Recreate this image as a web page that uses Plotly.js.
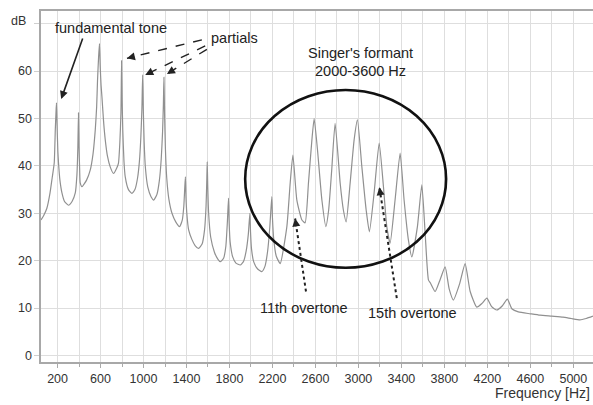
<!DOCTYPE html>
<html>
<head>
<meta charset="utf-8">
<script src="https://cdn.plot.ly/plotly-3.0.1.min.js"></script>
<style>
  html, body { margin: 0; padding: 0; background: #fff; }
  #chart { width: 593px; height: 405px; }
</style>
</head>
<body>
<div id="chart"></div>
<script>
// Sung-vowel spectrum: frequency (Hz) and level (dB) along the envelope
const freqHz = [
  46, 70, 100, 130, 150, 169, 179, 185, 190, 195, 203, 209, 222, 241, 265, 302,
  335, 365, 380, 389, 395, 400, 406, 411, 427,
  470, 504, 530, 551, 564, 572, 582, 590, 597, 605, 613, 628, 644, 665, 690, 721,
  750, 767, 780, 790, 796, 801, 807, 818, 830, 860, 892,
  920, 945, 962, 975, 985, 992, 998, 1006, 1018, 1040, 1070, 1095,
  1125, 1148, 1165, 1177, 1185, 1190, 1196, 1204, 1216, 1236, 1265, 1300, 1335,
  1360, 1375, 1384, 1390, 1395, 1403, 1420, 1450, 1480, 1512,
  1545, 1568, 1582, 1589, 1593, 1598, 1606, 1625, 1660, 1690, 1714,
  1745, 1766, 1780, 1791, 1797, 1806, 1830, 1860, 1900,
  1930, 1955, 1975, 1990, 1996, 2005, 2025, 2060, 2101,
  2130, 2155, 2175, 2194, 2200, 2212, 2235, 2272,
  2334, 2365, 2390, 2427, 2474, 2504,
  2535, 2567, 2588, 2619, 2660, 2697,
  2723, 2751, 2783, 2830, 2860, 2886,
  2923, 2960, 2991, 3032, 3072, 3102,
  3146, 3193, 3233, 3264, 3295,
  3341, 3388, 3425, 3465, 3497,
  3549, 3590, 3621, 3652, 3670, 3714,
  3760, 3807, 3845, 3884, 3940, 3993, 4040, 4101,
  4150, 4195, 4240, 4288, 4340, 4386, 4430, 4488,
  4600, 4690, 4800, 4904, 4980, 5062, 5120, 5183
];
const levelDb = [
  28.6, 29.5, 31.0, 34.3, 37.5, 40.6, 47.6, 51.0, 53.3, 49.0, 43.0, 40.6, 37.0, 34.3, 32.5, 31.7,
  32.5, 34.3, 38.0, 44.0, 51.2, 44.0, 39.0, 36.4, 35.6,
  37.0, 39.1, 42.5, 47.6, 52.5, 58.0, 63.0, 65.8, 61.0, 57.0, 54.6, 49.5, 45.5, 42.0, 39.8, 38.4,
  39.5, 40.6, 45.0, 51.2, 62.2, 54.0, 47.6, 41.0, 37.7, 35.0, 34.2,
  35.0, 37.5, 41.0, 46.0, 52.0, 59.2, 52.0, 45.0, 39.5, 35.5, 33.5, 32.8,
  34.0, 37.0, 41.5, 47.0, 53.0, 58.7, 51.0, 43.5, 37.5, 33.0, 30.0, 28.2, 27.2,
  28.5, 31.5, 35.5, 37.7, 33.5, 30.0, 26.5, 24.5, 23.2, 22.6,
  23.5, 26.5, 31.5, 37.0, 40.9, 35.5, 30.0, 25.0, 21.8, 20.4, 19.8,
  20.5, 23.0, 28.0, 33.2, 28.0, 24.0, 20.8, 19.5, 19.1,
  19.8, 22.0, 25.5, 30.0, 26.0, 22.5, 19.8, 18.3, 17.7,
  18.8, 22.0, 27.0, 33.5, 29.0, 24.5, 21.0, 19.4,
  27.2, 36.4, 42.3, 32.8, 28.6, 28.0,
  36.4, 45.5, 50.0, 43.4, 32.8, 27.2,
  30.7, 39.0, 49.0, 36.4, 30.7, 28.2,
  36.4, 45.5, 49.7, 39.8, 30.7, 26.1,
  34.3, 44.8, 35.6, 27.2, 23.7,
  32.8, 42.7, 32.8, 24.4, 20.8,
  27.2, 36.0, 25.8, 15.9, 15.3, 13.5,
  16.0, 18.7, 14.0, 11.7, 15.0, 19.4, 13.5, 10.2,
  11.0, 12.1, 10.3, 9.6, 10.5, 11.9, 9.8, 9.2,
  8.8, 8.5, 8.3, 8.1, 7.8, 7.5, 7.8, 8.3
];

// Axis ticks
const xTickVals = [200, 600, 1000, 1400, 1800, 2200, 2600, 3000, 3400, 3800, 4200, 4600, 5000];
const yTickVals = [0, 10, 20, 30, 40, 50, 60, 70];
const yTickText = ['0', '10', '20', '30', '40', '50', '60', ''];

const FONT = '"Liberation Sans", Arial, Helvetica, sans-serif';
const INK = '#222';

const trace = {
  x: freqHz,
  y: levelDb,
  type: 'scatter',
  mode: 'lines',
  line: { color: '#909090', width: 1.2, shape: 'spline', smoothing: 0.5 },
  hoverinfo: 'skip'
};

// dashed / dotted pointer lines (tail -> tip, data units)
function pointer(x0, y0, x1, y1, dash, width) {
  return {
    type: 'line', xref: 'x', yref: 'y',
    x0: x0, y0: y0, x1: x1, y1: y1,
    line: { color: INK, width: width, dash: dash }
  };
}
// arrow head sitting on a pointer tip
function head(x, y, ax, ay) {
  return {
    x: x, y: y, xref: 'x', yref: 'y', text: '',
    showarrow: true, arrowhead: 2, arrowsize: 1, arrowwidth: 1.6,
    arrowcolor: INK, ax: ax, ay: ay
  };
}
function label(x, y, text, size) {
  return {
    x: x, y: y, xref: 'x', yref: 'y', text: text, showarrow: false,
    xanchor: 'center', yanchor: 'middle',
    font: { family: FONT, size: size, color: INK }
  };
}

const shapes = [
  // formant region ring
  { type: 'circle', xref: 'x', yref: 'y', x0: 1946, x1: 3816, y0: 18.5, y1: 56.0,
    line: { color: '#111', width: 2.6 } },
  pointer(1543, 66.6, 846, 62.7, 'dash', 1.4),
  pointer(1574, 65.3, 1016, 59.2, 'dash', 1.4),
  pointer(1590, 64.6, 1218, 59.4, 'dash', 1.4),
  pointer(2512, 13.5, 2411, 28.9, 'dot', 2),
  pointer(3357, 12.1, 3195, 35.5, 'dot', 2)
];

const annotations = [
  label(695, 69.1, 'fundamental tone', 14.5),
  { x: 234, y: 54.1, xref: 'x', yref: 'y', text: '', showarrow: true,
    arrowhead: 2, arrowsize: 1, arrowwidth: 1.6, arrowcolor: INK, ax: 22, ay: -62 },
  label(1844, 67.0, 'partials', 14.5),
  head(846, 62.7, 8.7, -2.1),
  head(1016, 59.2, 8.1, -3.9),
  head(1218, 59.4, 7.7, -4.7),
  label(3016, 63.9, "Singer's formant", 14.5),
  label(3016, 60.1, '2000-3600 Hz', 14.5),
  label(2495, 10.0, '11th overtone', 14.5),
  head(2411, 28.9, 1.3, 8.9),
  label(3504, 8.9, '15th overtone', 14.5),
  head(3195, 35.5, 1.4, 8.9),
  // unit label at the top of the value axis
  { x: -0.04, y: 70.6, xref: 'paper', yref: 'y', text: 'dB', showarrow: false,
    xanchor: 'center', yanchor: 'middle', font: { family: FONT, size: 12.5, color: '#333' } },
  // frequency axis caption, right-aligned under the axis
  { x: 0.998, y: -0.089, xref: 'paper', yref: 'paper', text: 'Frequency [Hz]',
    showarrow: false, xanchor: 'right', yanchor: 'middle',
    font: { family: FONT, size: 14, color: '#333' } }
];

const layout = {
  width: 593, height: 405,
  margin: { l: 41, r: 0, t: 11, b: 43 },
  paper_bgcolor: '#fff', plot_bgcolor: '#fff',
  showlegend: false,
  font: { family: FONT, size: 12.5, color: '#333' },
  xaxis: {
    range: [46, 5183],
    tickvals: xTickVals,
    showgrid: true, gridcolor: '#dedede', gridwidth: 1,
    ticks: 'outside', ticklen: 4, tickcolor: '#aaa',
    minor: { dtick: 200, tick0: 0, showgrid: true, gridcolor: '#dedede', gridwidth: 1,
             ticks: 'outside', ticklen: 3, tickcolor: '#aaa' },
    showline: true, linecolor: '#a8a8a8', linewidth: 1.6, mirror: true,
    zeroline: false,
    tickfont: { family: FONT, size: 12.5, color: '#333' }
  },
  yaxis: {
    range: [-1.37, 72.68],
    tickvals: yTickVals,
    ticktext: yTickText,
    showgrid: true, gridcolor: '#dedede', gridwidth: 1,
    ticks: 'outside', ticklen: 5, tickcolor: '#cfcfcf',
    showline: true, linecolor: '#a8a8a8', linewidth: 1.6,
    zeroline: false,
    tickfont: { family: FONT, size: 12.5, color: '#333' }
  },
  shapes: shapes,
  annotations: annotations
};

Plotly.newPlot('chart', [trace], layout, { displayModeBar: false, staticPlot: true });
</script>
</body>
</html>
